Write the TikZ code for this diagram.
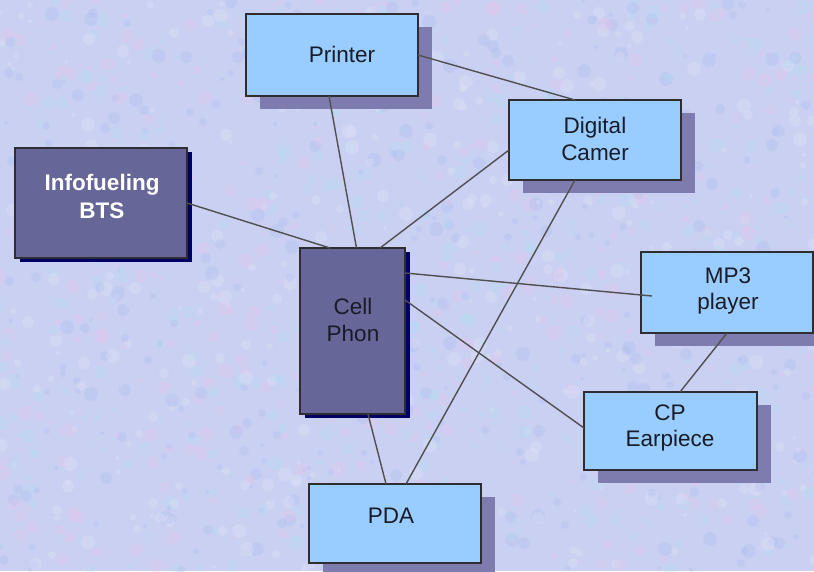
\documentclass[tikz,border=0pt]{standalone}
\usepackage{fontspec}
\setmainfont{Liberation Sans}
\usetikzlibrary{shadows,calc}

\definecolor{bgbase}{RGB}{202,208,242}
\definecolor{texpink}{RGB}{230,198,236}
\definecolor{texcyan}{RGB}{176,222,240}
\definecolor{texblue}{RGB}{172,188,238}
\definecolor{texwhite}{RGB}{226,230,248}
\definecolor{lightfill}{RGB}{153,204,255}
\definecolor{darkfill}{RGB}{102,102,153}
\definecolor{boxline}{RGB}{45,45,50}
\definecolor{lightshadow}{RGB}{126,124,174}
\definecolor{darkshadow}{RGB}{0,0,102}
\definecolor{wire}{RGB}{80,80,80}
\definecolor{inktext}{RGB}{25,28,40}

\tikzset{
  lightbox/.style={draw=boxline, line width=1.8pt, fill=lightfill,
    inner sep=0pt, outer sep=0pt,
    general shadow={fill=lightshadow, shadow xshift=14pt, shadow yshift=-13pt}},
  darkbox/.style={draw=boxline, line width=1.8pt, fill=darkfill,
    inner sep=0pt, outer sep=0pt,
    general shadow={fill=darkshadow, shadow xshift=5pt, shadow yshift=-4pt}},
  boxtext/.style={align=center, inner sep=0pt, text=inktext,
    font=\fontsize{22.5}{26.5}\selectfont},
  wirelink/.style={draw=wire, line width=1.4pt},
}

\begin{document}
\begin{tikzpicture}[x=1pt, y=-1pt]
  \useasboundingbox (0,0) rectangle (814,571);

  % mottled backdrop
  \fill[bgbase] (0,0) rectangle (814,571);
  \begin{scope}
    \clip (0,0) rectangle (814,571);
    \pgfmathsetseed{42}
    \foreach \i in {1,...,1500}{
      \pgfmathsetmacro{\bx}{random(0,814)}
      \pgfmathsetmacro{\by}{random(0,571)}
      \pgfmathsetmacro{\br}{random(2,7)}
      \pgfmathtruncatemacro{\bc}{random(1,4)}
      \ifcase\bc\or\def\bcol{texpink}\or\def\bcol{texcyan}\or\def\bcol{texblue}\or\def\bcol{texwhite}\fi
      \fill[\bcol, opacity=0.3] (\bx,\by) circle[radius=\br];
    }
  \end{scope}

  % boxes
  \node[lightbox, minimum width=172pt, minimum height=82pt] (printer) at (332,55) {};
  \node[lightbox, minimum width=172pt, minimum height=80pt] (camera) at (595,140) {};
  \node[darkbox,  minimum width=172pt, minimum height=110pt] (bts) at (101,203) {};
  \node[darkbox,  minimum width=105pt, minimum height=166pt] (cell) at (352.5,331) {};
  \node[lightbox, minimum width=172pt, minimum height=81pt] (mp3) at (727,292.5) {};
  \node[lightbox, minimum width=173pt, minimum height=78pt] (cp) at (670.5,431) {};
  \node[lightbox, minimum width=172pt, minimum height=79pt] (pda) at (395,523.5) {};

  % connectors
  \draw[wirelink] (bts.east) -- ([xshift=30pt]cell.north west);
  \draw[wirelink] ([xshift=-3pt]printer.south) -- ([xshift=4pt]cell.north);
  \draw[wirelink] ([yshift=-10pt]camera.west) -- ([xshift=-25pt]cell.north east);
  \draw[wirelink] (printer.east) -- ([xshift=-20pt]camera.north);
  \draw[wirelink] ([xshift=-20pt]camera.south) -- ([xshift=11pt]pda.north);
  \draw[wirelink] ([yshift=-25pt]cell.north east) -- ([xshift=11pt,yshift=-3.5pt]mp3.west);
  \draw[wirelink] ([yshift=-52pt]cell.north east) -- ([yshift=3pt]cp.west);
  \draw[wirelink] (mp3.south) -- ([xshift=9.5pt]cp.north);
  \draw[wirelink] ([xshift=15.5pt]cell.south) -- ([xshift=-9pt]pda.north);

  % labels
  \node[boxtext] (printer-t) at (342,54) {Printer};
  \node[boxtext] (camera-t) at (595,139) {Digital\\Camer};
  \node[boxtext, text=white, font=\bfseries\fontsize{22.5}{28}\selectfont] (bts-t) at (102,196) {Infofueling\\BTS};
  \node[boxtext] (cell-t) at (353,320) {Cell\\Phon};
  \node[boxtext] (mp3-t) at (728,291) {MP3\\player};
  \node[boxtext] (cp-t) at (670,428) {CP\\Earpiece};
  \node[boxtext] (pda-t) at (391,516) {PDA};
\end{tikzpicture}
\end{document}
